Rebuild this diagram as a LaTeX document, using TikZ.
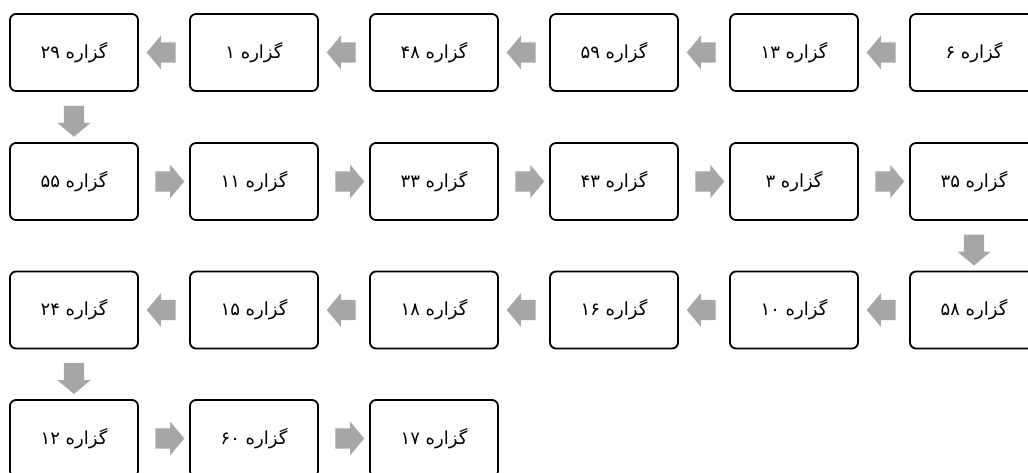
\documentclass[tikz,border=0pt]{standalone}
\usepackage{fontspec}
\newfontfamily\arabicfont[Script=Arabic]{DejaVu Sans}
\TeXXeTstate=1
\usetikzlibrary{shapes.arrows,calc}
\definecolor{arrowgray}{HTML}{A6A6A6}
\newcommand{\gz}[1]{\beginR گزاره \beginL #1\endL\endR}
\begin{document}
\begin{tikzpicture}[x=1pt,y=1pt,
  box/.style={draw=black, line width=1.8pt, rounded corners=6pt,
    minimum width=128pt, minimum height=77pt, inner sep=0pt, fill=white,
    font=\arabicfont\fontsize{18}{21}\selectfont},
  harrow/.style={single arrow, fill=arrowgray, draw=none, minimum height=28pt,
    single arrow head extend=6.5pt, single arrow tip angle=100, inner sep=10pt},
  varrow/.style={harrow, minimum height=31pt, shape border rotate=270},
  larrow/.style={harrow, shape border rotate=180},
]
\useasboundingbox (0,0) rectangle (1028,473);
\clip (0,0) rectangle (1028,473);
% row 1
\node[box] (r1c0) at (74,420.5) {\gz{۲۹}};
\node[box] (r1c1) at (254,420.5) {\gz{۱}};
\node[box] (r1c2) at (434,420.5) {\gz{۴۸}};
\node[box] (r1c3) at (614,420.5) {\gz{۵۹}};
\node[box] (r1c4) at (794,420.5) {\gz{۱۳}};
\node[box] (r1c5) at (974,420.5) {\gz{۶}};
% row 2
\node[box] (r2c0) at (74,291.5) {\gz{۵۵}};
\node[box] (r2c1) at (254,291.5) {\gz{۱۱}};
\node[box] (r2c2) at (434,291.5) {\gz{۳۳}};
\node[box] (r2c3) at (614,291.5) {\gz{۴۳}};
\node[box] (r2c4) at (794,291.5) {\gz{۳}};
\node[box] (r2c5) at (974,291.5) {\gz{۳۵}};
% row 3
\node[box] (r3c0) at (74,163) {\gz{۲۴}};
\node[box] (r3c1) at (254,163) {\gz{۱۵}};
\node[box] (r3c2) at (434,163) {\gz{۱۸}};
\node[box] (r3c3) at (614,163) {\gz{۱۶}};
\node[box] (r3c4) at (794,163) {\gz{۱۰}};
\node[box] (r3c5) at (974,163) {\gz{۵۸}};
% row 4
\node[box] (r4c0) at (74,34.5) {\gz{۱۲}};
\node[box] (r4c1) at (254,34.5) {\gz{۶۰}};
\node[box] (r4c2) at (434,34.5) {\gz{۱۷}};
% arrows row 1 (leftwards)
\foreach \a/\b in {0/1,1/2,2/3,3/4,4/5}
  \node[larrow] at ($(r1c\a.east)!0.5!(r1c\b.west)+(1.5,0)$) {};
% row1 -> row2
\node[varrow] at ($(r1c0.south)!0.5!(r2c0.north)$) {};
% row 2 (rightwards)
\foreach \a/\b in {0/1,1/2,2/3,3/4,4/5}
  \node[harrow] at ($(r2c\a.east)!0.5!(r2c\b.west)+(1.5,0)$) {};
% row2 -> row3
\node[varrow] at ($(r2c5.south)!0.5!(r3c5.north)$) {};
% row 3 (leftwards)
\foreach \a/\b in {0/1,1/2,2/3,3/4,4/5}
  \node[larrow] at ($(r3c\a.east)!0.5!(r3c\b.west)+(1.5,0)$) {};
% row3 -> row4
\node[varrow] at ($(r3c0.south)!0.5!(r4c0.north)$) {};
% row 4 (rightwards)
\foreach \a/\b in {0/1,1/2}
  \node[harrow] at ($(r4c\a.east)!0.5!(r4c\b.west)+(1.5,0)$) {};
\end{tikzpicture}
\end{document}
